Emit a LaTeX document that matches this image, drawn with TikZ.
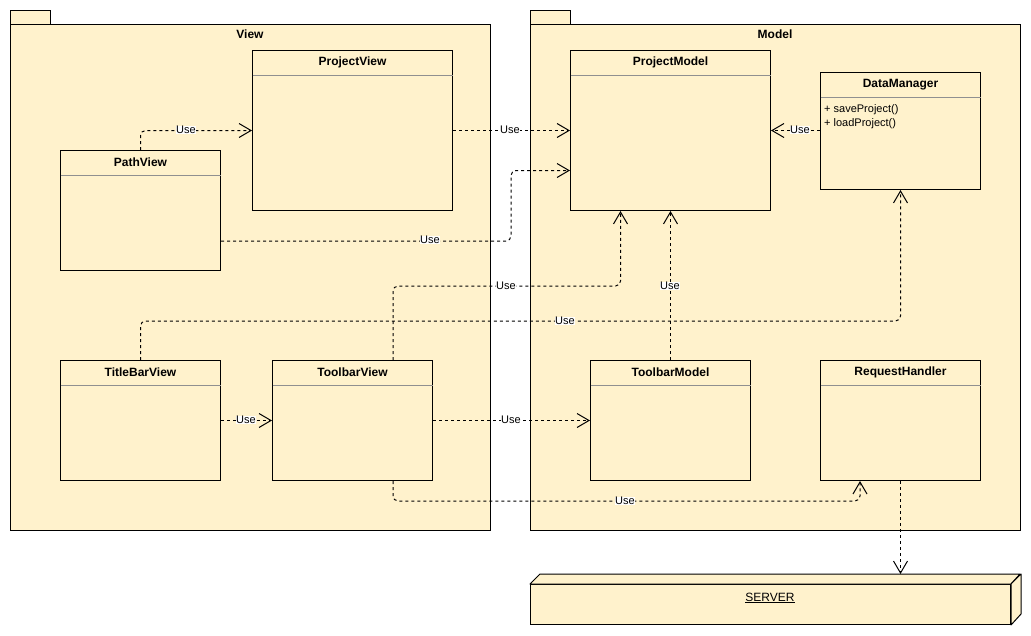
\documentclass[tikz,border=0pt]{standalone}
\usepackage{fontspec}
\setmainfont{Liberation Sans}
\usetikzlibrary{arrows.meta,calc}
\definecolor{pkgfill}{HTML}{FFF2CC}
\definecolor{sepgrey}{HTML}{909090}
\tikzset{
  pkgbox/.style={draw,fill=pkgfill,line width=1pt},
  clsbox/.style={draw,fill=pkgfill,line width=1pt,anchor=north west,inner sep=0pt},
  sepline/.style={draw=sepgrey,line width=1pt},
  clstitle/.style={font=\fontsize{12pt}{14pt}\selectfont\bfseries,inner sep=0pt},
  pkgtitle/.style={font=\fontsize{12pt}{14pt}\selectfont\bfseries,inner sep=0pt},
  member/.style={font=\fontsize{11pt}{13pt}\selectfont,inner sep=0pt,anchor=west},
  use/.style={line width=1pt,dash pattern=on 3pt off 3pt,rounded corners=5pt,
    -{Straight Barb[length=12pt,width=14pt,line width=1pt]}},
  lbl/.style={fill=white,inner sep=0.6pt,font=\fontsize{11pt}{13pt}\selectfont}
}
\newcommand\umlclass[6]{%
  \node[clsbox,minimum width=#4pt,minimum height=#5pt] (#1) at (#2,#3) {};
  \draw[sepline] ($(#1.north west)+(0.5,25)$) -- ($(#1.north east)+(-0.5,25)$);
  \node[clstitle] at ($(#1.north)+(0,12.5)$) {#6};
}
\begin{document}
\begin{tikzpicture}[x=1pt,y=-1pt]
\useasboundingbox[fill=white] (0,0) rectangle (1031,635);

% packages
\draw[pkgbox] (10,10) rectangle (50,24);
\node[pkgbox,anchor=north west,inner sep=0pt,minimum width=480pt,minimum height=506pt] (viewpkg) at (10,24) {};
\node[pkgtitle] at (250,34) {View};
\draw[pkgbox] (530,10) rectangle (570,24);
\node[pkgbox,anchor=north west,inner sep=0pt,minimum width=490pt,minimum height=506pt] (modelpkg) at (530,24) {};
\node[pkgtitle] at (775,34) {Model};

% classes
\umlclass{projectview}{252}{50}{200}{160}{ProjectView}
\umlclass{pathview}{60}{150}{160}{120}{PathView}
\umlclass{titlebarview}{60}{360}{160}{120}{TitleBarView}
\umlclass{toolbarview}{272}{360}{160}{120}{ToolbarView}
\umlclass{projectmodel}{570}{50}{200}{160}{ProjectModel}
\umlclass{datamanager}{820}{72}{160}{117}{DataManager}
\umlclass{toolbarmodel}{590}{360}{160}{120}{ToolbarModel}
\umlclass{requesthandler}{820}{360}{160}{120}{RequestHandler}
\node[member] at (824,110) {+ saveProject()};
\node[member] at (824,124) {+ loadProject()};

% server (3D box)
\node[pkgbox,anchor=north west,inner sep=0pt,minimum width=480pt,minimum height=40pt] (server) at (530,584) {};
\draw[pkgbox,line join=round] (server.north west) -- ++(10,-10) -- ++(480,0) -- ($(server.north east)$) -- cycle;
\draw[pkgbox,line join=round] (server.north east) -- ++(10,-10) -- ++(0,40) -- (server.south east) -- cycle;
\node[font=\fontsize{12pt}{14pt}\selectfont,inner sep=0pt] at (770,598) {\underline{SERVER}};
\coordinate (servertop) at ($(server.north)+(130,-10)$);

% connectors
\draw[use] (pathview.north) |- (projectview.west);
\node[lbl] at (186,130) {Use};

\draw[use] (projectview.east) -- (projectmodel.west);
\node[lbl] at (510,130) {Use};

\draw[use] ($(pathview.south east)+(0,-30)$) -- ++(290,0) |- ($(projectmodel.west)+(0,40)$);
\node[lbl] at (430,240) {Use};

\draw[use] (datamanager.west |- projectmodel.east) -- (projectmodel.east);
\node[lbl] at (800,130) {Use};

\draw[use] ($(toolbarview.north east)+(-40,0)$) -- ++(0,-74) -| ($(projectmodel.south)+(-50,0)$);
\node[lbl] at (506,286) {Use};

\draw[use] (toolbarmodel.north) -- (projectmodel.south -| toolbarmodel.north);
\node[lbl] at (670,286) {Use};

\draw[use] (titlebarview.north) -- ++(0,-39) -| (datamanager.south);
\node[lbl] at (565,321) {Use};

\draw[use] (titlebarview.east) -- (toolbarview.west);
\node[lbl] at (246,420) {Use};

\draw[use] (toolbarview.east) -- (toolbarmodel.west);
\node[lbl] at (511,420) {Use};

\draw[use] ($(toolbarview.south east)+(-40,0)$) -- ++(0,20) -| ($(requesthandler.south west)+(40,0)$);
\node[lbl] at (625,501) {Use};

\draw[use] (requesthandler.south) -- (servertop);
\end{tikzpicture}
\end{document}
